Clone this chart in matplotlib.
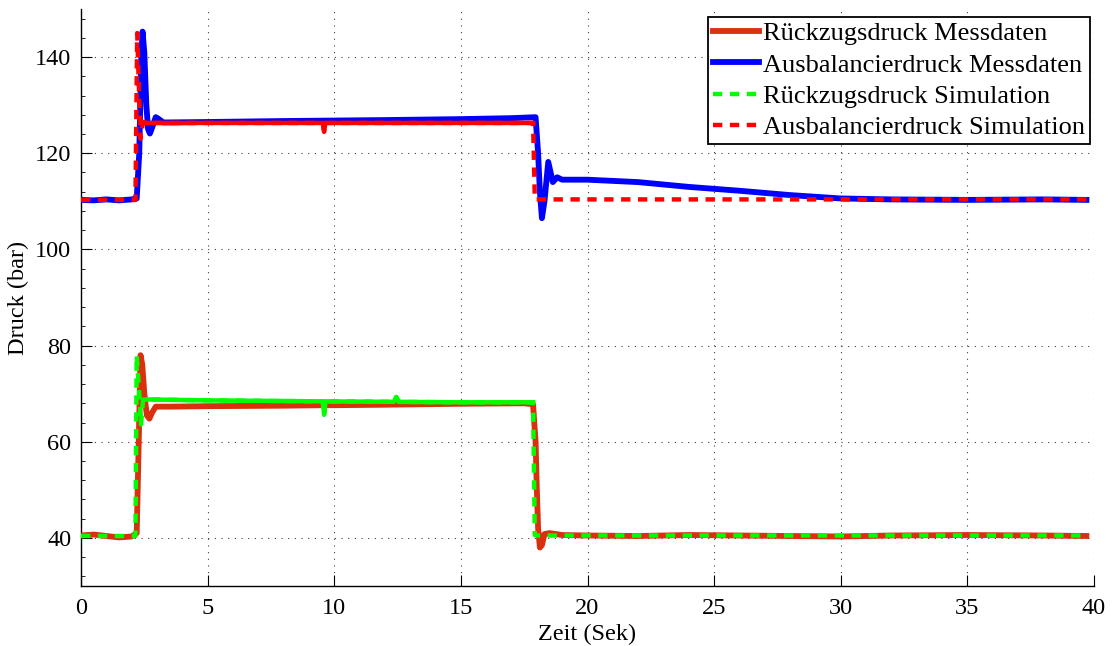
import matplotlib
matplotlib.use("Agg")
import matplotlib.pyplot as plt
from matplotlib.ticker import MultipleLocator

# ---- data ----
t_rz_mess = [0, 0.5, 1.0, 1.5, 2.0, 2.2, 2.28, 2.35, 2.42, 2.5, 2.6, 2.7, 2.8, 2.95, 3.5, 5, 8, 9.6, 10, 12, 15, 17.5,
             17.85, 17.95, 18.0, 18.05, 18.12, 18.2, 18.3, 18.5, 19, 20, 22, 24, 26, 28, 30, 32, 35, 38, 39.7]
v_rz_mess = [40.5, 40.7, 40.4, 40.1, 40.3, 41.0, 60.0, 78.0, 76.0, 70.0, 65.5, 64.8, 66.0, 67.3, 67.3, 67.4, 67.5, 67.6, 67.6, 67.7, 67.9, 68.0,
             67.8, 60.0, 50.0, 42.0, 38.0, 38.5, 40.8, 41.0, 40.6, 40.5, 40.4, 40.6, 40.5, 40.4, 40.3, 40.5, 40.6, 40.5, 40.4]

t_ab_mess = [0, 0.5, 1.0, 1.5, 2.0, 2.2, 2.3, 2.38, 2.43, 2.5, 2.58, 2.65, 2.72, 2.82, 2.95, 3.05, 3.25, 5, 8, 10, 12, 15, 17.0, 17.95,
             18.05, 18.12, 18.2, 18.3, 18.45, 18.63, 18.8, 19.0, 20, 22, 24, 26, 28, 30, 32, 35, 38, 39.7]
v_ab_mess = [110.3, 110.2, 110.4, 110.2, 110.4, 110.6, 120.0, 140.0, 145.3, 141.0, 130.0, 125.0, 124.1, 125.5, 127.5, 127.2, 126.4, 126.5, 126.7, 126.8, 126.9, 127.1, 127.3, 127.5,
             120.0, 112.0, 106.5, 110.0, 118.2, 114.0, 115.0, 114.5, 114.5, 114.0, 113.0, 112.2, 111.3, 110.6, 110.4, 110.3, 110.4, 110.3]

t_rz_sim = [0, 2.15, 2.2, 2.3, 2.37, 2.45, 2.6, 5, 9.55, 9.6, 9.65, 12.35, 12.45, 12.55, 15, 17.85, 17.92, 18.0, 39.75]
v_rz_sim = [40.4, 40.4, 78.0, 70.0, 63.6, 68.7, 68.8, 68.6, 68.4, 65.6, 68.4, 68.3, 69.3, 68.3, 68.2, 68.2, 40.6, 40.5, 40.5]

t_ab_sim = [0, 2.15, 2.22, 2.35, 2.45, 2.6, 9.55, 9.6, 9.65, 17.85, 17.92, 18.0, 39.8]
v_ab_sim = [110.3, 110.3, 145.0, 123.0, 126.5, 126.3, 126.3, 124.5, 126.3, 126.3, 110.4, 110.4, 110.4]

labels = ["Rückzugsdruck Messdaten", "Ausbalancierdruck Messdaten",
          "Rückzugsdruck Simulation", "Ausbalancierdruck Simulation"]
x_ticks = [0, 5, 10, 15, 20, 25, 30, 35, 40]
y_ticks = [40, 60, 80, 100, 120, 140]

plt.rcParams['font.family'] = ['Liberation Serif', 'DejaVu Serif']

fig = plt.figure(figsize=(11.17, 6.46), dpi=100)
ax = fig.add_axes([81/1117, 1-586/646, (1094-81)/1117, (586-9)/646])

c_rz = '#DA3010'
c_ab = '#0000FF'
c_g = '#00FF00'
c_r = '#FF0000'
dash = (0, (2.1, 1.7))

l1, = ax.plot(t_rz_mess, v_rz_mess, color=c_rz, lw=4.2, solid_joinstyle='round', zorder=3)
l2, = ax.plot(t_ab_mess, v_ab_mess, color=c_ab, lw=4.2, solid_joinstyle='round', zorder=4)
l3, = ax.plot(t_rz_sim, v_rz_sim, color=c_g, lw=3.2, linestyle=dash, zorder=5)
# plateau of simulation appears dense (solid) in the reference
i0, i1 = 5, 16
ax.plot(t_rz_sim[i0:i1], v_rz_sim[i0:i1], color=c_g, lw=3.2, zorder=5)
l4, = ax.plot(t_ab_sim, v_ab_sim, color=c_r, lw=3.2, linestyle=dash, zorder=6)
j0, j1 = 4, 10
ax.plot(t_ab_sim[j0:j1], v_ab_sim[j0:j1], color=c_r, lw=3.2, zorder=6)

ax.set_xlim(0, 40)
ax.set_ylim(30, 150)
ax.set_xticks(x_ticks)
ax.set_yticks(y_ticks)
ax.yaxis.set_minor_locator(MultipleLocator(4))
ax.xaxis.set_minor_locator(MultipleLocator(1))
ax.tick_params(which='major', direction='in', length=8, width=0.8, labelsize=17.5)
ax.tick_params(axis='x', which='major', pad=9)
ax.tick_params(axis='y', which='major', pad=7)
ax.tick_params(which='minor', direction='in', length=0)
ax.tick_params(axis='y', which='minor', length=3, width=0.6)
ax.spines['top'].set_visible(False)
ax.spines['right'].set_visible(False)
for s in ('left', 'bottom'):
    ax.spines[s].set_linewidth(1.0)
ax.grid(True, which='major', linestyle=(0, (1, 5)), color='0.25', linewidth=0.8)

ax.set_xlabel('Zeit (Sek)', fontsize=17.5, labelpad=3)
ax.set_ylabel('Druck (bar)', fontsize=17.5, labelpad=4)

leg = ax.legend([l1, l2, l3, l4], labels, loc='upper right',
                bbox_to_anchor=((1090-81)/(1094-81), (586-17)/(586-9)),
                borderaxespad=0, fontsize=19, fancybox=False, framealpha=1,
                edgecolor='black', handlelength=1.75, handletextpad=0.15,
                labelspacing=0.3, borderpad=0.18)
leg.get_frame().set_linewidth(1.3)
leg.set_zorder(10)

fig.savefig('out.png', dpi=100)
